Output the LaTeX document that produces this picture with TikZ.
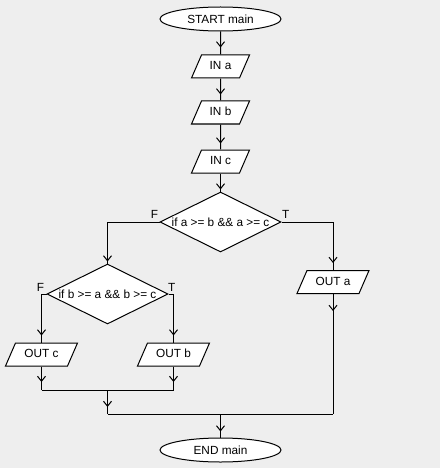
\documentclass[tikz,border=0pt]{standalone}
\usepackage{fontspec}
\setmainfont{Liberation Sans}
\usetikzlibrary{shapes.geometric,arrows.meta,decorations.markings,calc}
\definecolor{canvas}{HTML}{EEEEEE}
\begin{document}
\begin{tikzpicture}[x=1pt,y=-1pt,
  font=\fontsize{11.8}{14}\selectfont,
  line width=1pt,
  terminal/.style={ellipse,draw,fill=white,minimum width=121pt,minimum height=24pt,inner sep=0pt},
  io/.style={trapezium,trapezium left angle=66.5,trapezium right angle=113.5,
    trapezium stretches body=true,draw,fill=white,
    text height=9pt,text depth=3pt,inner ysep=5.5pt,inner xsep=1pt,
    minimum width=#1},
  decision/.style={diamond,aspect=2,draw,fill=white,minimum width=121pt,
    minimum height=60pt,inner sep=0pt},
  branch/.style={inner sep=0pt},
  flow/.style={postaction={decorate},decoration={markings,
    mark=at position #1 with {\arrow{Straight Barb[length=5pt,width=8pt]}}}}
]
% canvas
\fill[canvas] (0,0) rectangle (440,468);

% nodes
\node[terminal] (start) at (220.5,19) {START main};
\node[io=58pt] (ina) at (220.5,66.5) {IN a};
\node[io=58pt] (inb) at (220.5,112.5) {IN b};
\node[io=58pt] (inc) at (220.5,161.5) {IN c};
\node[decision] (d1) at (220.5,222) {if a >= b \&\& a >= c};
\node[decision] (d2) at (107.5,294) {if b >= a \&\& b >= c};
\node[io=72pt] (outa) at (333,282) {OUT a};
\node[io=72pt] (outc) at (41.5,354.5) {OUT c};
\node[io=72pt] (outb) at (173.5,354.5) {OUT b};
\node[terminal] (stop) at (220.5,450) {END main};

% branch labels
\node[branch,anchor=base east] (f1) at ($(d1.west)+(-1,-3.5)$) {F};
\node[branch,anchor=base west] (t1) at ($(d1.east)+(0,-3.5)$) {T};
\node[branch,anchor=base east] (f2) at ($(d2.west)+(-2,-3)$) {F};
\node[branch,anchor=base west] (t2) at ($(d2.east)+(-1,-3)$) {T};

% join points
\coordinate (j1) at (107.5,390);
\coordinate (j2) at (220.5,414);

% connectors
\draw[flow=-7pt] (start) -- (ina);
\draw[flow=-6pt] (ina) -- (inb);
\draw[flow=-6pt] (inb) -- (inc);
\draw[flow=-2pt] (inc) -- (d1.north);
\draw[flow=-2pt] (d1.west) -| (d2.north);
\draw[flow=-7pt] (d1.east) -| (outa.north);
\draw[flow=-7pt] (d2.west) -| (outc.north);
\draw[flow=-7pt] (d2.east) -| (outb.north);
\draw[flow=-8pt] (outc.south) -- (outc.south |- j1);
\draw[flow=-8pt] (outb.south) -- (outb.south |- j1);
\draw (outc.south |- j1) -- (outb.south |- j1);
\draw[flow=-7pt] (j1) -- (j1 |- j2);
\draw[flow=17pt] (outa.south) -- (outa.south |- j2);
\draw (j1 |- j2) -- (outa.south |- j2);
\draw[flow=-6pt] (j2) -- (stop.north);
\end{tikzpicture}
\end{document}
